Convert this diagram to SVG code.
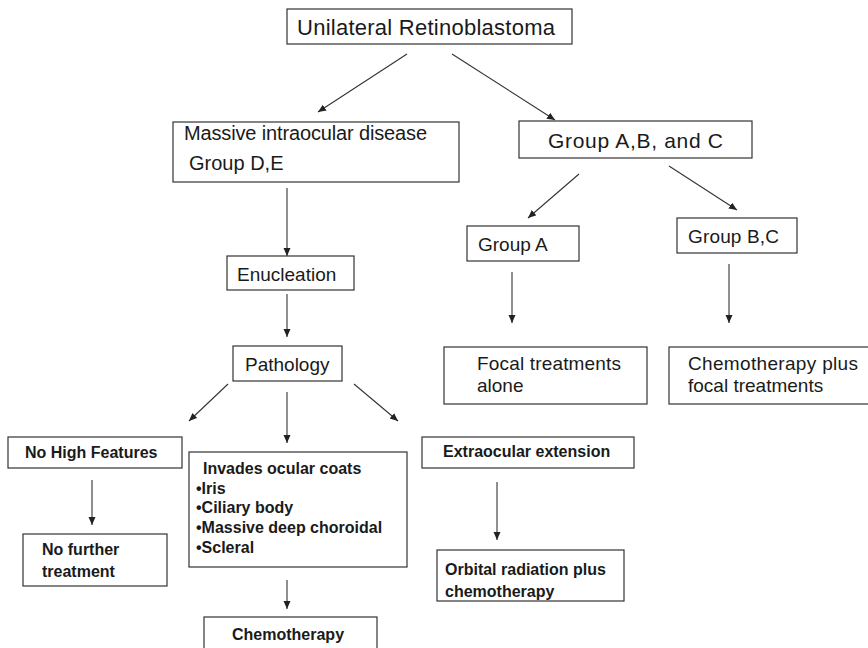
<svg xmlns="http://www.w3.org/2000/svg" width="868" height="648" viewBox="0 0 868 648">
<defs>
<marker id="arr" markerUnits="userSpaceOnUse" markerWidth="9" markerHeight="8" refX="8" refY="3.5" orient="auto">
<path d="M0,0 L8,3.5 L0,7 z" fill="#222"/>
</marker>
<style>
.box{fill:#fff;stroke:#333;stroke-width:1.2}
.t{font-family:"Liberation Sans",Arial,sans-serif;fill:#1a1a1a}
.b{font-family:"Liberation Sans",Arial,sans-serif;font-weight:bold;font-size:16px;fill:#1a1a1a}
.c{stroke:#333;stroke-width:1.1;fill:none;marker-end:url(#arr)}
</style>
</defs>
<rect width="868" height="648" fill="#fff"/>
<g id="connectors">
<line class="c" x1="407" y1="54" x2="318" y2="112"/>
<line class="c" x1="452" y1="54" x2="555" y2="120"/>
<line class="c" x1="287" y1="188" x2="287" y2="256"/>
<line class="c" x1="287" y1="294" x2="287" y2="337"/>
<line class="c" x1="579" y1="174" x2="528" y2="218"/>
<line class="c" x1="669" y1="166" x2="737" y2="210"/>
<line class="c" x1="512" y1="272" x2="512" y2="323"/>
<line class="c" x1="729" y1="264" x2="729" y2="323"/>
<line class="c" x1="228" y1="384" x2="189" y2="421"/>
<line class="c" x1="287" y1="392" x2="287" y2="443"/>
<line class="c" x1="354" y1="384" x2="398" y2="421"/>
<line class="c" x1="92" y1="480" x2="92" y2="525"/>
<line class="c" x1="287" y1="580" x2="287" y2="609"/>
<line class="c" x1="497" y1="482" x2="497" y2="540"/>
</g>
<g id="n-unilateral">
<rect class="box" x="287" y="9" width="285" height="35"/>
<text class="t" x="297" y="35" font-size="22" textLength="258" lengthAdjust="spacing">Unilateral Retinoblastoma</text>
</g>
<g id="n-massive">
<rect class="box" x="173" y="122" width="286" height="60"/>
<text class="t" x="184" y="140" font-size="20" textLength="243" lengthAdjust="spacing">Massive intraocular disease</text>
<text class="t" x="189" y="170" font-size="20">Group D,E</text>
</g>
<g id="n-groupabc">
<rect class="box" x="519" y="121" width="233" height="37"/>
<text class="t" x="548" y="148" font-size="21" textLength="175" lengthAdjust="spacing">Group A,B, and C</text>
</g>
<g id="n-groupa">
<rect class="box" x="467" y="226" width="112" height="35"/>
<text class="t" x="478" y="251" font-size="19">Group A</text>
</g>
<g id="n-groupbc">
<rect class="box" x="677" y="218" width="120" height="35"/>
<text class="t" x="688" y="243" font-size="19" textLength="91" lengthAdjust="spacing">Group B,C</text>
</g>
<g id="n-enucleation">
<rect class="box" x="227" y="256" width="127" height="34"/>
<text class="t" x="237" y="281" font-size="19">Enucleation</text>
</g>
<g id="n-pathology">
<rect class="box" x="233" y="346" width="109" height="35"/>
<text class="t" x="245" y="371" font-size="19">Pathology</text>
</g>
<g id="n-focal">
<rect class="box" x="444" y="347" width="203" height="57"/>
<text class="t" x="477" y="370" font-size="19" textLength="144" lengthAdjust="spacing">Focal treatments</text>
<text class="t" x="477" y="392" font-size="19">alone</text>
</g>
<g id="n-chemoplus">
<rect class="box" x="669" y="347" width="205" height="57"/>
<text class="t" x="688" y="370" font-size="19" textLength="170" lengthAdjust="spacing">Chemotherapy plus</text>
<text class="t" x="688" y="392" font-size="19">focal treatments</text>
</g>
<g id="n-nohigh">
<rect class="box" x="8" y="437" width="174" height="31"/>
<text class="b" x="25" y="458">No High Features</text>
</g>
<g id="n-invades">
<rect class="box" x="189" y="452" width="218" height="115"/>
<text class="b" x="203" y="474">Invades ocular coats</text>
<text class="b" x="196" y="494">•Iris</text>
<text class="b" x="196" y="513">•Ciliary body</text>
<text class="b" x="196" y="533">•Massive deep choroidal</text>
<text class="b" x="196" y="553">•Scleral</text>
</g>
<g id="n-extraocular">
<rect class="box" x="422" y="437" width="212" height="31"/>
<text class="b" x="443" y="457">Extraocular extension</text>
</g>
<g id="n-nofurther">
<rect class="box" x="23" y="534" width="144" height="52"/>
<text class="b" x="42" y="555">No further</text>
<text class="b" x="42" y="577">treatment</text>
</g>
<g id="n-orbital">
<rect class="box" x="437" y="550" width="187" height="51"/>
<text class="b" x="445" y="575">Orbital radiation plus</text>
<text class="b" x="445" y="597">chemotherapy</text>
</g>
<g id="n-chemotherapy">
<rect class="box" x="204" y="617" width="173" height="45"/>
<text class="b" x="232" y="640">Chemotherapy</text>
</g>
</svg>
